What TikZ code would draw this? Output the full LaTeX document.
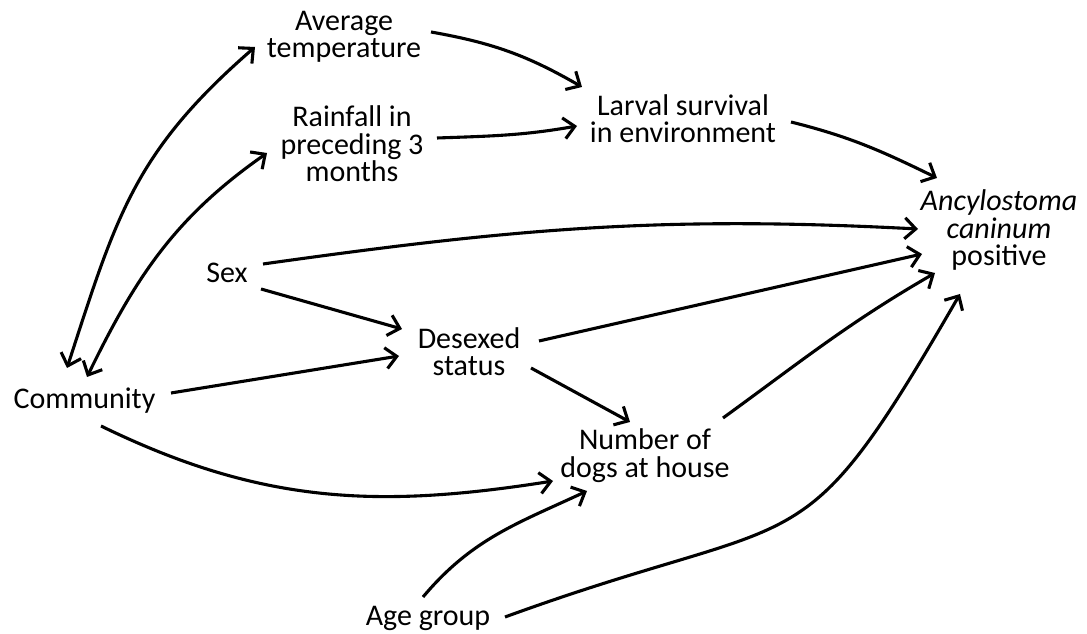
\documentclass[tikz,border=0pt]{standalone}
\usepackage{fontspec}
\setmainfont{Carlito}
\usetikzlibrary{arrows.meta}
\newcommand\tightlines{\lineskiplimit=-30pt\relax}

\begin{document}
\begin{tikzpicture}[>={Straight Barb[length=11pt,width=21pt]},x=1pt,y=1pt]
\tikzset{
	every node/.style={align=center,inner sep=0pt,
		font=\fontsize{30}{27.5}\selectfont\tightlines},
	link/.style={->,line width=3.1pt}
}
\useasboundingbox (0,0) rectangle (1087,634);
\node(avg) at (344,597) {Average\\temperature};
\node(rain) at (352,490) {Rainfall in\\preceding 3\\months};
\node(larval) at (683,515.5) {Larval survival\\in environment};
\node(anc) at (999,403.5) {\textit{Ancylostoma}\\\textit{caninum}\\positive};
\node(sex) at (227,361.5) {Sex};
\node(desexed) at (469,282.5) {Desexed\\status};
\node(comm) at (84.5,233) {Community};
\node(dogs) at (645,178.5) {Number of\\dogs at house};
\node(age) at (428,16) {Age group};
% climate
\draw [link,<->] ([shift={(-17.5,33)}]comm.center) to[out=72,in=221,looseness=1.1]
	([shift={(-89,-10)}]avg.center);
\draw [link,<->] ([shift={(2.5,24)}]comm.center) to[out=64,in=215]
	([shift={(-85,-9)}]rain.center);
\draw [link] ([shift={(87,5)}]avg.center) to[out=-10,in=150]
	([shift={(-101,31.5)}]larval.center);
\draw [link] ([shift={(85,6)}]rain.center) to[out=2,in=190]
	([shift={(-106,-7.5)}]larval.center);
\draw [link] ([shift={(108,-3.5)}]larval.center) to[out=-14,in=154]
	([shift={(-62,52.5)}]anc.center);
% dog level
\draw [link] ([shift={(36,8.5)}]sex.center) to[out=8,in=177]
	([shift={(-81,1.5)}]anc.center);
\draw [link] ([shift={(34,-16.5)}]sex.center) -- ([shift={(-67,22.5)}]desexed.center);
\draw [link] ([shift={(86.5,8)}]comm.center) -- ([shift={(-70,-4.5)}]desexed.center);
\draw [link] ([shift={(70,10.5)}]desexed.center) -- ([shift={(-77,-23.5)}]anc.center);
\draw [link] ([shift={(62,-16.5)}]desexed.center) -- ([shift={(-15,33.5)}]dogs.center);
\draw [link] ([shift={(78,37.5)}]dogs.center) to[out=36,in=210]
	([shift={(-64,-42.5)}]anc.center);
\draw [link] ([shift={(16.5,-25)}]comm.center) to[out=-26,in=189]
	([shift={(-92,-25.5)}]dogs.center);
\draw [link] ([shift={(-5,21)}]age.center) to[out=50,in=205]
	([shift={(-58,-35.5)}]dogs.center);
\draw [link] ([shift={(77,1)}]age.center) to[out=20,in=240,looseness=1.5]
	([shift={(-39,-63.5)}]anc.center);
\end{tikzpicture}
\end{document}
